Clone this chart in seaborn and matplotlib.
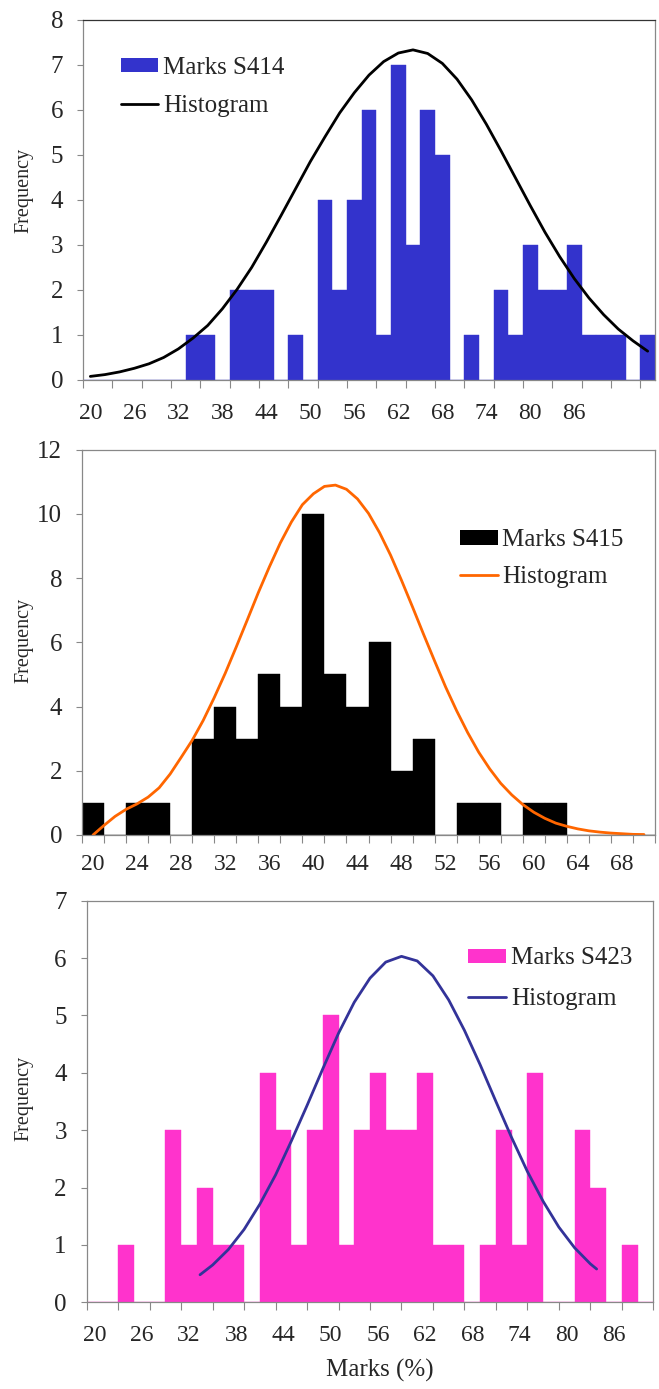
import matplotlib
matplotlib.use("Agg")
import matplotlib.pyplot as plt
from matplotlib.patches import Patch
from matplotlib.lines import Line2D
import numpy as np
import pandas as pd
import seaborn as sns

# ---------------- data ----------------
# Panel 1 : Marks S414
marks_s414 = [20, 22, 24, 26, 28, 30, 32, 34, 36, 38, 40, 42, 44, 46, 48, 50, 52, 54, 56, 58,
              60, 62, 64, 66, 68, 70, 72, 74, 76, 78, 80, 82, 84, 86, 88, 90, 92, 94, 96]
freq_s414 = [0, 0, 0, 0, 0, 0, 0, 1, 1, 0, 2, 2, 2, 0, 1, 0, 4, 2, 4, 6,
             1, 7, 3, 6, 5, 0, 1, 0, 2, 1, 3, 2, 2, 3, 1, 1, 1, 0, 1]
curve_s414_x = marks_s414
curve_s414_y = [0.08, 0.12, 0.18, 0.26, 0.36, 0.50, 0.69, 0.93, 1.21, 1.58, 2.01, 2.50, 3.06,
                3.65, 4.25, 4.85, 5.40, 5.93, 6.38, 6.77, 7.07, 7.26, 7.33, 7.25, 7.03, 6.68,
                6.22, 5.68, 5.09, 4.48, 3.87, 3.28, 2.74, 2.25, 1.82, 1.45, 1.13, 0.87, 0.64]
labels_s414 = ["20", "26", "32", "38", "44", "50", "56", "62", "68", "74", "80", "86"]

# Panel 2 : Marks S415
marks_s415 = [20, 22, 24, 26, 28, 30, 32, 34, 36, 38, 40, 42, 44, 46, 48, 50, 52, 54, 56, 58,
              60, 62, 64, 66, 68, 70]
freq_s415 = [1, 0, 1, 1, 0, 3, 4, 3, 5, 4, 10, 5, 4, 6, 2, 3, 0, 1, 1, 0, 1, 1, 0, 0, 0, 0]
curve_s415_x = [20, 21, 22, 23, 24, 25, 26, 27, 28, 29, 30, 31, 32, 33, 34, 35, 36, 37, 38, 39,
                40, 41, 42, 43, 44, 45, 46, 47, 48, 49, 50, 51, 52, 53, 54, 55, 56, 57, 58, 59,
                60, 61, 62, 63, 64, 65, 66, 67, 68, 69, 70]
curve_s415_y = [0.0, 0.30, 0.58, 0.80, 0.97, 1.18, 1.47, 1.90, 2.42, 2.95, 3.57, 4.28, 5.04,
                5.86, 6.70, 7.55, 8.35, 9.10, 9.75, 10.29, 10.63, 10.86, 10.90, 10.77, 10.47,
                10.02, 9.42, 8.72, 7.93, 7.10, 6.25, 5.42, 4.61, 3.87, 3.19, 2.58, 2.06, 1.61,
                1.25, 0.95, 0.71, 0.52, 0.37, 0.27, 0.19, 0.13, 0.09, 0.06, 0.04, 0.02, 0.015]
labels_s415 = ["20", "24", "28", "32", "36", "40", "44", "48", "52", "56", "60", "64", "68"]

# Panel 3 : Marks S423
marks_s423 = [20, 22, 24, 26, 28, 30, 32, 34, 36, 38, 40, 42, 44, 46, 48, 50, 52, 54, 56, 58,
              60, 62, 64, 66, 68, 70, 72, 74, 76, 78, 80, 82, 84, 86, 88, 90]
freq_s423 = [0, 0, 1, 0, 0, 3, 1, 2, 1, 1, 0, 4, 3, 1, 3, 5, 1, 3, 4, 3,
             3, 4, 1, 1, 0, 1, 3, 1, 4, 0, 0, 3, 2, 0, 1, 0]
curve_s423_x = [33.4, 35, 37, 39, 41, 43, 45, 47, 49, 51, 53, 55, 57, 59, 61, 63, 65, 67, 69,
                71, 73, 75, 77, 79, 81, 83, 83.8]
curve_s423_y = [0.48, 0.65, 0.92, 1.27, 1.71, 2.22, 2.81, 3.43, 4.07, 4.69, 5.23, 5.65, 5.93,
                6.03, 5.95, 5.69, 5.27, 4.74, 4.14, 3.50, 2.87, 2.28, 1.76, 1.31, 0.95, 0.67,
                0.58]
labels_s423 = ["20", "26", "32", "38", "44", "50", "56", "62", "68", "74", "80", "86"]

# ---------------- style ----------------
sns.set_style("white")
plt.rcParams["font.family"] = ["Liberation Serif", "DejaVu Serif"]

W, H = 659, 1389
fig = plt.figure(figsize=(W / 100, H / 100), dpi=100)

def rect(l, t, r, b):
    return [l / W, 1 - b / H, (r - l) / W, (b - t) / H]

panels = [
    dict(box=(83, 19.7, 655, 380), marks=marks_s414, freq=freq_s414, cx=curve_s414_x, cy=curve_s414_y,
         bar="#3333CC", line="#000000", name="Marks S414", ymax=8, ystep=1, tick_step=4,
         labels=labels_s414, leg=(120.7, 57.0), lsp=0.64, xpad=16.5, ylab_y=190),
    dict(box=(82, 449.8, 655, 835), marks=marks_s415, freq=freq_s415, cx=curve_s415_x, cy=curve_s415_y,
         bar="#000000", line="#FF6600", name="Marks S415", ymax=12, ystep=2, tick_step=2,
         labels=labels_s415, leg=(460, 529.3), lsp=0.59, xpad=14.0, ylab_y=640),
    dict(box=(86.7, 900.7, 653.3, 1302.3), marks=marks_s423, freq=freq_s423, cx=curve_s423_x, cy=curve_s423_y,
         bar="#FF33CC", line="#333399", name="Marks S423", ymax=7, ystep=1, tick_step=4,
         labels=labels_s423, leg=(468.3, 947.5), lsp=0.72, xpad=16.5, ylab_y=1098),
]

for i, p in enumerate(panels):
    ax = fig.add_axes(rect(*p["box"]))
    df = pd.DataFrame({"marks": [float(m) for m in p["marks"]],
                       "freq": [float(f) for f in p["freq"]]})
    lo, hi = df["marks"].iloc[0] - 1, df["marks"].iloc[-1] + 1
    edges = [float(m) - 1 for m in p["marks"]] + [float(hi)]
    sns.histplot(data=df, x="marks", weights="freq", bins=edges, ax=ax, color=p["bar"],
                 alpha=1, edgecolor=p["bar"], linewidth=0.3)
    cdf = pd.DataFrame({"x": p["cx"], "y": p["cy"]})
    sns.lineplot(data=cdf, x="x", y="y", ax=ax, color=p["line"], linewidth=2.0, sort=False)
    ax.set_xlim(lo, hi)
    ax.set_ylim(0, p["ymax"])
    yt = np.arange(0, p["ymax"] + 0.1, p["ystep"])
    ax.set_yticks(yt)
    ax.set_yticklabels([str(int(v)) for v in yt])
    ax.set_xticks(np.arange(lo, hi + 0.01, p["tick_step"]))
    ax.set_xticklabels([])
    ax.set_xticks([float(s) for s in p["labels"]], minor=True)
    ax.set_xticklabels(p["labels"], minor=True)
    ax.tick_params(axis="x", which="major", direction="out", length=5.5, width=0.8,
                   color="#888888", bottom=True)
    ax.tick_params(axis="x", which="minor", length=0, pad=p["xpad"], labelsize=17)
    ax.tick_params(axis="y", which="major", direction="out", length=4.3, width=0.8,
                   color="#888888", pad=10, labelsize=18, left=True)
    for s in ax.spines.values():
        s.set_color("#888888")
        s.set_linewidth(0.9)
    if i == 0:
        ax.spines["top"].set_color("#333333")
    ax.set_xlabel("")
    ax.set_ylabel("Frequency", fontsize=14.5)
    ax.yaxis.set_label_coords(33.5 / W, 1 - p["ylab_y"] / H, transform=fig.transFigure)
    handles = [Patch(facecolor=p["bar"], edgecolor="none"),
               Line2D([], [], color=p["line"], linewidth=2.0)]
    ax.legend(handles, [p["name"], "Histogram"], loc="upper left",
              bbox_to_anchor=(p["leg"][0] / W, 1 - p["leg"][1] / H),
              bbox_transform=fig.transFigure, frameon=False, fontsize=18,
              borderpad=0, borderaxespad=0, handlelength=1.5, handleheight=0.5,
              handletextpad=0.2, labelspacing=p["lsp"])
    if i == 2:
        ax.set_xlabel("Marks (%)", fontsize=18)
        ax.xaxis.set_label_coords(379.5 / W, 1 - 1359 / H, transform=fig.transFigure)

fig.savefig("out.png", dpi=100, facecolor="white")
